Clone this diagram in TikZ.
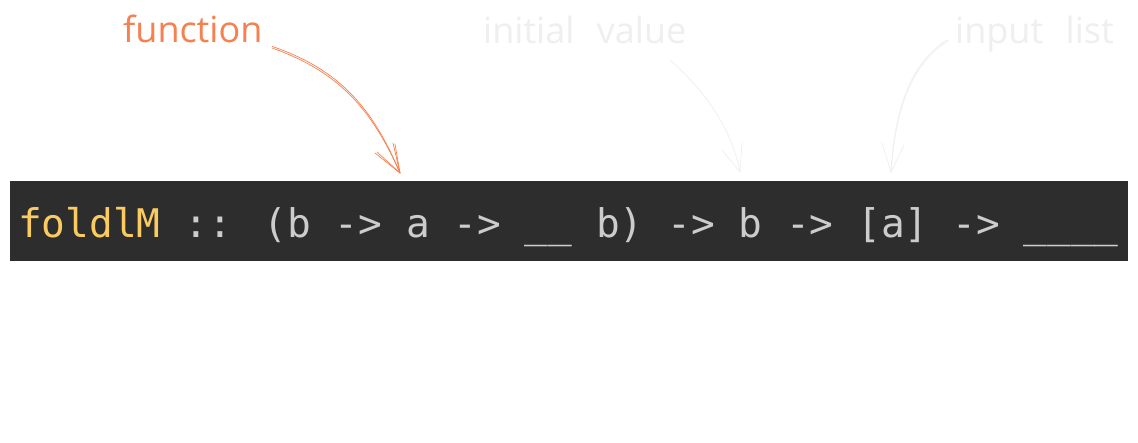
\documentclass[tikz,border=0pt]{standalone}
\usepackage{fontspec}
\newfontfamily\codefont{DejaVu Sans Mono}
\newfontfamily\notefont[WordSpace=2.4]{Open Sans}
\definecolor{barbg}{HTML}{2D2D2D}
\definecolor{codefg}{HTML}{CCCCCC}
\definecolor{codename}{HTML}{FACB61}
\definecolor{coral}{HTML}{F7804F}
\definecolor{faint}{HTML}{EFEFEF}
\begin{document}
\begin{tikzpicture}[x=1pt,y=-1pt,
  notelabel/.style={inner sep=0pt, anchor=base west, font=\notefont\fontsize{36}{40}\selectfont},
  sketch/.style={line width=0.7pt, line cap=round, line join=round},
  codebar/.style={fill=barbg, draw=none, inner sep=0pt, minimum width=1118pt, minimum height=80pt, anchor=north west},
  codeline/.style={inner sep=0pt, anchor=base west, text=codefg, font=\codefont\fontsize{39.45}{44}\selectfont}]
\useasboundingbox (0,0) rectangle (1138,442);
\fill[white] (0,0) rectangle (1138,442);

% code bar with the type signature
\node[codebar] (bar) at (10,181) {};
\node[codeline] (sig) at (18,237) {\textcolor{codename}{foldlM} :: (b -> a -> \_\_ b) -> b -> [a] -> \_\_\_\_};

% annotations
\node[notelabel, text=coral] (fn) at (123,42) {function};
\node[notelabel, text=faint] (init) at (483,43) {initial value};
\node[notelabel, text=faint] (lst) at (955,43) {input list};

% arrow start and tip points
\coordinate (fnS) at (272,48);   \coordinate (fnT) at (400,173);
\coordinate (inS) at (670,60);   \coordinate (inT) at (740,172);
\coordinate (lsS) at (947,40);   \coordinate (lsT) at (891,172);

% function arrow (double hand-drawn stroke)
\draw[sketch, coral] (fnS) .. controls (340,72) and (372,110) .. (fnT);
\draw[sketch, coral] ([shift={(0,-1.6)}]fnS) .. controls (341,70) and (373,109) .. (fnT);
\draw[sketch, coral] (375,153) -- (fnT) -- (393,143);
\draw[sketch, coral] (377,152) -- (fnT) -- (395,144);

% initial value arrow
\draw[sketch, faint] (inS) .. controls (695,82) and (730,120) .. (inT);
\draw[sketch, faint] (722,150) -- (inT) -- (742,143);

% input list arrow
\draw[sketch, faint] (lsS) .. controls (915,60) and (895,100) .. (lsT);
\draw[sketch, faint] ([shift={(1.5,0.5)}]lsS) .. controls (916,61) and (896,100) .. (lsT);
\draw[sketch, faint] (882,143) -- (lsT) -- (904,145);
\end{tikzpicture}
\end{document}
